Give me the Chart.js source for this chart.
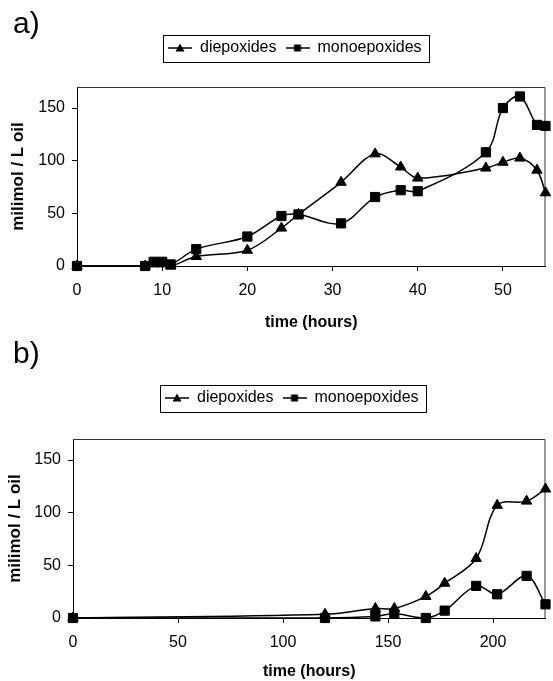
<!DOCTYPE html>
<html>
<head>
<meta charset="utf-8">
<script src="https://cdn.jsdelivr.net/npm/chart.js@4.4.0/dist/chart.umd.min.js"></script>
<style>
  html, body { margin: 0; padding: 0; background: #fff; }
  body { width: 553px; height: 681px; position: relative; overflow: hidden; }
  canvas { position: absolute; left: 0; }
  #chartA { top: 0; }
  #chartB { top: 340px; }
</style>
</head>
<body>
<canvas id="chartA" width="553" height="340"></canvas>
<canvas id="chartB" width="553" height="341"></canvas>
<script>
// a) values (time in hours, milimol / L oil)
const timesA = [0, 8, 9, 10, 11, 14, 20, 24, 26, 31, 35, 38, 40, 48, 50, 52, 54, 55];
const diA    = [0, 0, 2, 2, 0, 9, 15, 36, 49, 79.5, 106.5, 94, 83.5, 93, 98.5, 102.5, 91, 69.5];
const monoA  = [0, 0, 4, 4, 1.5, 16, 28, 47.5, 49, 40.5, 65.5, 72, 71, 108, 150, 161, 134, 133];

// b)
const timesB = [0, 120, 144, 153, 168, 177, 192, 202, 216, 225];
const diB    = [0, 3.5, 9, 9, 20.5, 33, 56.5, 107, 111, 122.5];
const monoB  = [0, 0, 1.5, 4, 0, 7, 30.5, 22.5, 40, 13];

const xTicksA = [0, 10, 20, 30, 40, 50];
const xTicksB = [0, 50, 100, 150, 200];
const yTicks  = [0, 50, 100, 150];
const names   = ['diepoxides', 'monoepoxides'];

Chart.defaults.font.family = "'Liberation Sans', Arial, sans-serif";
Chart.defaults.color = '#000';
Chart.defaults.animation = false;

// little "line + marker" picture for the legend
function legendIcon(style) {
  const c = document.createElement('canvas');
  c.width = 24; c.height = 14;
  const ctx = c.getContext('2d');
  ctx.strokeStyle = '#000'; ctx.lineWidth = 1.5;
  ctx.beginPath(); ctx.moveTo(0, 7); ctx.lineTo(24, 7); ctx.stroke();
  ctx.fillStyle = '#000';
  ctx.beginPath();
  if (style === 'triangle') {
    ctx.moveTo(12, 2.5); ctx.lineTo(16.5, 10.5); ctx.lineTo(7.5, 10.5); ctx.closePath();
  } else {
    ctx.rect(8.5, 3.5, 7, 7);
  }
  ctx.fill();
  return c;
}
const icons = [legendIcon('triangle'), legendIcon('rect')];

function series(label, times, vals, style, r, order) {
  return {
    label: label,
    data: times.map((t, i) => ({ x: t, y: vals[i] })),
    borderColor: '#000',
    backgroundColor: '#000',
    borderWidth: 1.5,
    tension: 0.35,
    pointStyle: style,
    pointRadius: r,
    pointHoverRadius: r,
    pointBorderWidth: 1,
    clip: false,
    order: order
  };
}

// moves the legend to where it sits in the picture
const legendPos = {
  id: 'legendPos',
  afterLayout(chart, args, opts) {
    const lg = chart.legend;
    const p = lg.options.labels.padding;
    const dx = opts.left - p - lg.left;
    const dy = opts.centerY - 8 - p - lg.top;
    lg.left += dx; lg.right += dx; lg.top += dy; lg.bottom += dy;
  }
};

// plot frame (top/right) and box round the legend
const frame = {
  id: 'frame',
  beforeDatasetsDraw(chart) {
    const { ctx, chartArea: a, legend } = chart;
    ctx.save();
    ctx.lineWidth = 1;
    ctx.strokeStyle = '#333';
    ctx.beginPath();
    ctx.moveTo(a.left, a.top + 0.5);
    ctx.lineTo(a.right - 0.5, a.top + 0.5);
    ctx.lineTo(a.right - 0.5, a.bottom);
    ctx.stroke();
    const hb = legend.legendHitBoxes;
    const first = hb[0], last = hb[hb.length - 1];
    const x0 = Math.round(first.left - 5) + 0.5;
    const x1 = Math.round(last.left + last.width + 7) + 0.5;
    const yc = first.top + first.height / 2;
    ctx.strokeStyle = '#000';
    ctx.strokeRect(x0, Math.round(yc - 13.5) + 0.5, x1 - x0, 27);
    ctx.restore();
  }
};

function makeChart(id, cfg) {
  return new Chart(document.getElementById(id), {
    type: 'line',
    data: {
      datasets: [
        series(names[0], cfg.times, cfg.di, 'triangle', 6, 1),
        series(names[1], cfg.times, cfg.mono, 'rect', 6.5, 0)
      ]
    },
    options: {
      responsive: false,
      layout: { padding: { left: 13, right: cfg.padRight, top: 0, bottom: 0 } },
      plugins: {
        tooltip: { enabled: false },
        title: {
          display: true, text: cfg.label, align: 'start', color: '#000',
          font: { size: 30, weight: 'normal', lineHeight: 1 },
          padding: cfg.titlePad
        },
        legend: {
          position: 'top', align: 'start',
          labels: {
            usePointStyle: true, pointStyleWidth: 24, padding: 9,
            font: { size: 16 }, color: '#000',
            generateLabels: chart => chart.data.datasets.map((ds, i) => ({
              text: ds.label, pointStyle: icons[i], datasetIndex: i,
              fillStyle: '#000', strokeStyle: '#000', lineWidth: 0, hidden: false
            }))
          }
        },
        legendPos: cfg.legend
      },
      scales: {
        x: {
          type: 'linear', min: 0, max: cfg.xMax,
          afterBuildTicks: s => { s.ticks = cfg.xTicks.map(v => ({ value: v })); },
          afterFit: s => { s.height = cfg.xAxisH; },
          grid: { drawOnChartArea: false, drawTicks: true, tickLength: 5, color: '#000' },
          border: { color: '#000', width: 1 },
          ticks: { padding: 10, font: { size: 16 }, color: '#000', maxRotation: 0, autoSkip: false },
          title: {
            display: true, text: 'time (hours)', color: '#000',
            font: { size: 16, weight: 'bold' },
            padding: { top: 0, bottom: cfg.xTitlePad }
          }
        },
        y: {
          min: 0, max: 170,
          afterBuildTicks: s => { s.ticks = yTicks.map(v => ({ value: v })); },
          afterFit: s => { s.width = cfg.yAxisW; },
          grid: { drawOnChartArea: false, drawTicks: true, tickLength: 5, color: '#000' },
          border: { color: '#000', width: 1 },
          ticks: { padding: 7, font: { size: 16 }, color: '#000' },
          title: {
            display: true, text: 'milimol / L oil', color: '#000',
            font: { size: 17, weight: 'bold', lineHeight: 0.5 },
            padding: { top: cfg.yTitlePad, bottom: 0 }
          }
        }
      }
    },
    plugins: [legendPos, frame]
  });
}

makeChart('chartA', {
  label: 'a)', times: timesA, di: diA, mono: monoA,
  xMax: 55, xTicks: xTicksA, padRight: 1,
  titlePad: { top: 10, bottom: 12 },
  legend: { left: 168, centerY: 48 },
  xAxisH: 74, xTitlePad: 8, yAxisW: 64, yTitlePad: 1
});

makeChart('chartB', {
  label: 'b)', times: timesB, di: diB, mono: monoB,
  xMax: 225, xTicks: xTicksB, padRight: 2,
  titlePad: { top: 0, bottom: 34 },
  legend: { left: 165, centerY: 58 },
  xAxisH: 63, xTitlePad: 0, yAxisW: 60, yTitlePad: -2
});
</script>
</body>
</html>
